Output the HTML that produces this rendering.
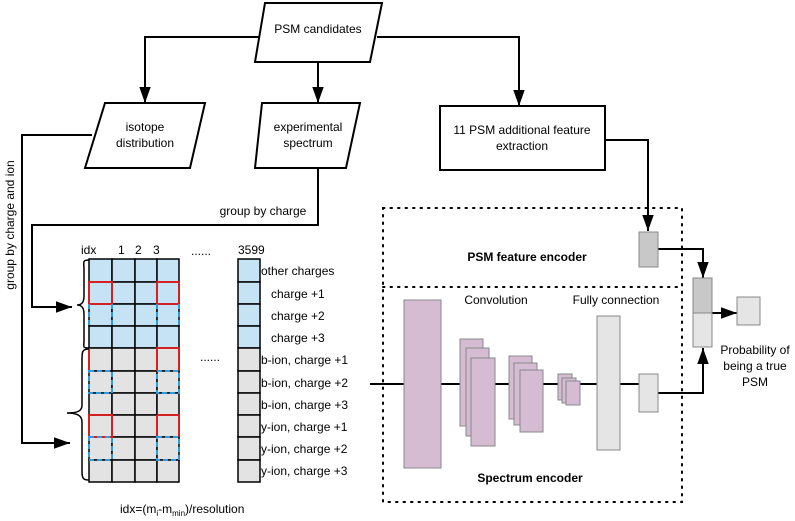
<!DOCTYPE html>
<html><head><meta charset="utf-8"><style>body{margin:0;background:#fff}svg{display:block;font-family:"Liberation Sans",sans-serif}</style></head><body>
<svg width="795" height="521" viewBox="0 0 795 521" xmlns="http://www.w3.org/2000/svg">
<defs><marker id="a" viewBox="0 0 14 10" refX="14" refY="5" markerWidth="8" markerHeight="6" orient="auto"><path d="M0,0L14,5L0,10z" fill="#000"/></marker></defs>
<g fill="none" stroke="#000" stroke-width="2">
<path d="M262,37H145V103" marker-end="url(#a)"/>
<path d="M318,62V103" marker-end="url(#a)"/>
<path d="M377,37H519V106" marker-end="url(#a)"/>
<path d="M605,140H648V231" marker-end="url(#a)"/>
<path d="M92,135H22V443H70" marker-end="url(#a)"/>
<path d="M318,168V225H32V307H72" marker-end="url(#a)"/>
<path d="M658,249H703V278" marker-end="url(#a)"/>
<path d="M712,313H737" marker-end="url(#a)"/>
<path d="M658,393H703V348" marker-end="url(#a)"/>
<path d="M370,384H639"/>
</g>
<g fill="#fff" stroke="#000" stroke-width="2">
<polygon points="265,3 382,3 370,62 255,62"/>
<polygon points="105,103 205,103 190,168 85,168"/>
<polygon points="262,103 360,103 346,168 255,168"/>
<rect x="440" y="106" width="165" height="64"/>
</g>
<g font-size="12" text-anchor="middle">
<text x="318" y="33">PSM candidates</text>
<text x="145" y="131">isotope</text><text x="145" y="147">distribution</text>
<text x="308" y="131">experimental</text><text x="308" y="147">spectrum</text>
<text x="522" y="134">11 PSM additional feature</text><text x="522" y="150">extraction</text>
<text x="263" y="215">group by charge</text>
<text transform="translate(14,225) rotate(-90)">group by charge and ion</text>
</g>
<g stroke="#000" stroke-width="1.5">
<g fill="#c5e3f5">
<rect x="89" y="259" width="23" height="23"/><rect x="112" y="259" width="23" height="23"/><rect x="135" y="259" width="22" height="23"/><rect x="157" y="259" width="22" height="23"/>
<rect x="89" y="282" width="23" height="22"/><rect x="112" y="282" width="23" height="22"/><rect x="135" y="282" width="22" height="22"/><rect x="157" y="282" width="22" height="22"/>
<rect x="89" y="304" width="23" height="22"/><rect x="112" y="304" width="23" height="22"/><rect x="135" y="304" width="22" height="22"/><rect x="157" y="304" width="22" height="22"/>
<rect x="89" y="326" width="23" height="22"/><rect x="112" y="326" width="23" height="22"/><rect x="135" y="326" width="22" height="22"/><rect x="157" y="326" width="22" height="22"/>
<rect x="238" y="259" width="22" height="23"/><rect x="238" y="282" width="22" height="22"/><rect x="238" y="304" width="22" height="22"/><rect x="238" y="326" width="22" height="22"/>
</g>
<g fill="#e3e3e3">
<rect x="89" y="348" width="23" height="23"/><rect x="112" y="348" width="23" height="23"/><rect x="135" y="348" width="22" height="23"/><rect x="157" y="348" width="22" height="23"/>
<rect x="89" y="371" width="23" height="22"/><rect x="112" y="371" width="23" height="22"/><rect x="135" y="371" width="22" height="22"/><rect x="157" y="371" width="22" height="22"/>
<rect x="89" y="393" width="23" height="22"/><rect x="112" y="393" width="23" height="22"/><rect x="135" y="393" width="22" height="22"/><rect x="157" y="393" width="22" height="22"/>
<rect x="89" y="415" width="23" height="22"/><rect x="112" y="415" width="23" height="22"/><rect x="135" y="415" width="22" height="22"/><rect x="157" y="415" width="22" height="22"/>
<rect x="89" y="437" width="23" height="23"/><rect x="112" y="437" width="23" height="23"/><rect x="135" y="437" width="22" height="23"/><rect x="157" y="437" width="22" height="23"/>
<rect x="89" y="460" width="23" height="22"/><rect x="112" y="460" width="23" height="22"/><rect x="135" y="460" width="22" height="22"/><rect x="157" y="460" width="22" height="22"/>
<rect x="238" y="348" width="22" height="23"/><rect x="238" y="371" width="22" height="22"/><rect x="238" y="393" width="22" height="22"/><rect x="238" y="415" width="22" height="22"/><rect x="238" y="437" width="22" height="23"/><rect x="238" y="460" width="22" height="22"/>
</g>
</g>
<g fill="none" stroke="#d42020" stroke-width="2">
<rect x="89" y="282" width="23" height="22"/><rect x="157" y="282" width="22" height="22"/>
<path d="M89,371V348M157,371V348H179V371"/>
<rect x="89" y="415" width="23" height="22"/><path d="M157,415H179V437M157,415V437"/>
</g>
<g fill="none" stroke="#2a9de0" stroke-width="2" stroke-dasharray="5,3">
<path d="M89,304V326M112,304V326M157,304V326M179,304V326"/>
<rect x="89" y="371" width="23" height="22"/><rect x="157" y="371" width="22" height="22"/>
<rect x="89" y="437" width="23" height="23"/><rect x="157" y="437" width="22" height="23"/>
</g>
<g fill="none" stroke="#000" stroke-width="1.5">
<path d="M89,260C82,260 84,262 84,270V296C84,302 82,305 77,305C82,305 84,308 84,314V340C84,347 82,348 89,348"/>
<path d="M89,349C82,349 82,352 82,360V405C82,411 78,413 67,413C78,413 82,416 82,422V472C82,479 84,480 89,480"/>
</g>
<g font-size="12">
<text x="81" y="254">idx</text><text x="118" y="254">1</text><text x="135" y="254">2</text><text x="153" y="254">3</text>
<text x="191" y="255">......</text><text x="238" y="254">3599</text><text x="200" y="361">......</text>
<text x="261" y="275">other charges</text><text x="271" y="298">charge +1</text><text x="271" y="320">charge +2</text><text x="271" y="342">charge +3</text>
<text x="261" y="364">b-ion, charge +1</text><text x="261" y="387">b-ion, charge +2</text><text x="261" y="409">b-ion, charge +3</text>
<text x="261" y="431">y-ion, charge +1</text><text x="261" y="453">y-ion, charge +2</text><text x="261" y="475">y-ion, charge +3</text>
<text x="120" y="513">idx=(m<tspan font-size="8" dy="3">i</tspan><tspan dy="-3">-m</tspan><tspan font-size="8" dy="3">min</tspan><tspan dy="-3">)/resolution</tspan></text>
</g>
<g fill="none" stroke="#000" stroke-width="2" stroke-dasharray="1.5,6" stroke-linecap="round">
<rect x="383" y="208" width="299" height="294"/><path d="M383,287H682"/>
</g>
<g stroke="#888" stroke-width="1">
<g fill="#d5bcd3">
<rect x="404" y="300" width="37" height="168"/>
<rect x="460" y="339" width="23" height="87"/><rect x="466" y="348" width="23" height="88"/><rect x="471" y="358" width="24" height="88"/>
<rect x="509" y="356" width="23" height="63"/><rect x="514" y="363" width="23" height="62"/><rect x="520" y="370" width="23" height="62"/>
<rect x="558" y="374" width="14" height="26"/><rect x="562" y="378" width="14" height="25"/><rect x="566" y="381" width="14" height="24"/>
</g>
<rect x="597" y="316" width="23" height="134" fill="#e5e5e5"/>
<rect x="639" y="374" width="19" height="38" fill="#e5e5e5"/>
<rect x="639" y="232" width="19" height="35" fill="#c8c8c8"/>
<rect x="693" y="278" width="19" height="35" fill="#c8c8c8"/>
<rect x="693" y="313" width="19" height="34" fill="#e5e5e5"/>
<rect x="737" y="297" width="23" height="28" fill="#e5e5e5"/>
</g>
<g font-size="12" text-anchor="middle">
<text x="527" y="261" font-weight="bold">PSM feature encoder</text>
<text x="496" y="304">Convolution</text><text x="616" y="304">Fully connection</text>
<text x="530" y="482" font-weight="bold">Spectrum encoder</text>
<text x="755" y="354">Probability of</text><text x="755" y="370">being a true</text><text x="755" y="386">PSM</text>
</g>
</svg>
</body></html>
